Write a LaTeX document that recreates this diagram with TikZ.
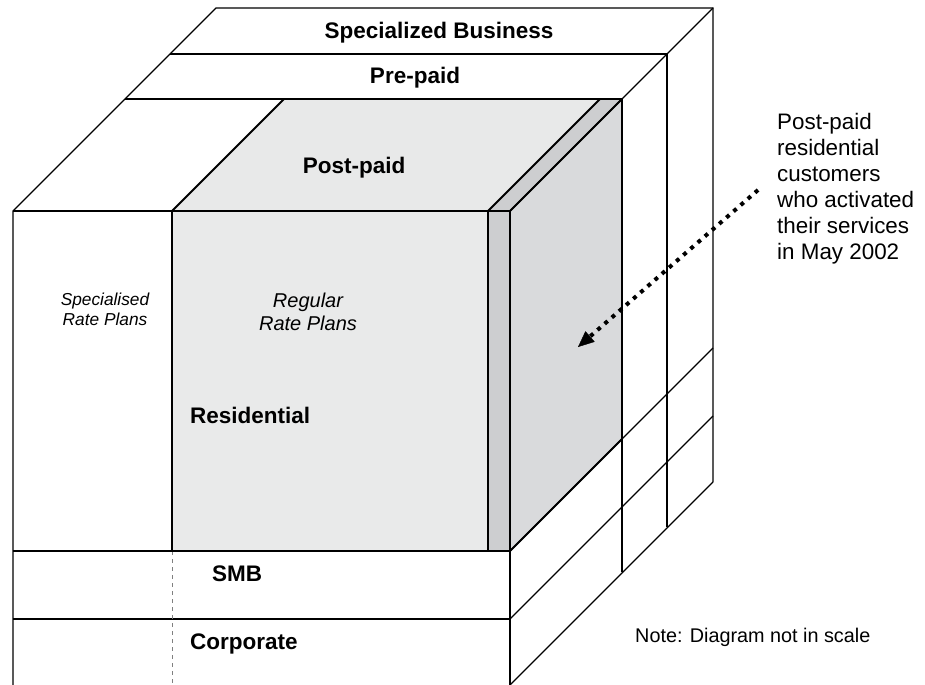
\documentclass[tikz,border=0pt]{standalone}
\usepackage{fontspec}
\setmainfont{Liberation Sans}
\usepackage{tikz}
\usetikzlibrary{arrows.meta, positioning}
\definecolor{topgray}{HTML}{E8E9E9}
\definecolor{frontgray}{HTML}{E9EAEA}
\definecolor{sidegray}{HTML}{D9DADC}
\definecolor{stripgray}{HTML}{CDCED0}

\begin{document}
\begin{tikzpicture}[x=1bp, y=-1bp,
            fineline/.style={line width=1.1bp, line join=miter},
            boldline/.style={line width=1.8bp, line join=miter},
            dashline/.style={line width=0.6bp, gray, dash pattern=on 4bp off 4bp},
            title/.style={font=\fontsize{22.5bp}{26bp}\selectfont\bfseries, inner sep=0pt, anchor=base},
            plan/.style={align=center, inner sep=0pt, anchor=north},
            pointer/.style={line width=4bp, dash pattern=on 4bp off 5.5bp,
                -{Triangle[length=16bp, width=14bp, line width=0.4bp]}}]

            \useasboundingbox (0,0) rectangle (925,685);

            % shaded post-paid residential block
            \fill[topgray] (172,211) -- (488,211) -- (600,99) -- (284,99) -- cycle;
            \fill[stripgray] (488,211) -- (510,211) -- (622,99) -- (600,99) -- cycle;
            \fill[frontgray] (172,211) rectangle (488,551);
            \fill[stripgray] (488,211) rectangle (510,551);
            \fill[sidegray] (510,211) -- (622,99) -- (622,439) -- (510,551) -- cycle;

            % cube grid
            \draw[fineline] (13,685) -- (13,211) -- (216,8) -- (713,8) -- (713,482);
            \draw[fineline] (13,211) -- (172,211);
            \draw[fineline] (170,54) -- (667,54) -- (667,527);
            \draw[fineline] (125,99) -- (622,99);
            \draw[fineline] (510,211) -- (713,8);
            \draw[fineline] (622,439) -- (622,572);
            \draw[fineline] (510,551) -- (713,348);
            \draw[fineline] (510,619) -- (713,416);
            \draw[fineline] (510,685) -- (713,482);
            \draw[fineline] (510,551) -- (510,685);
            \draw[fineline] (13,619) -- (510,619);
            \draw[boldline] (13,551) -- (510,551);
            \draw[dashline] (172,551) -- (172,685);

            % block outline
            \draw[boldline] (172,551) -- (172,211) -- (284,99) -- (622,99) -- (622,439) -- (510,551) -- cycle;
            \draw[boldline] (172,211) -- (510,211) -- (510,551);
            \draw[boldline] (510,211) -- (622,99);
            \draw[boldline] (488,551) -- (488,211) -- (600,99);

            % labels
            \node[title] (business) at (439,39) {Specialized Business};
            \node[title] (prepaid) at (415,84) {Pre-paid};
            \node[title] (postpaid) at (354,174) {Post-paid};
            \node[title, anchor=base west] (residential) at (190,423) {Residential};
            \node[title] (smb) at (237,581) {SMB};
            \node[title, anchor=base west] (corporate) at (190,649) {Corporate};
            \node[plan, font=\fontsize{17.3bp}{20bp}\selectfont\itshape] (specplans) at (105,293) {Specialised\\Rate Plans};
            \node[plan, font=\fontsize{20bp}{23bp}\selectfont\itshape] (regplans) at (308,293) {Regular\\Rate Plans};
            \node[anchor=base west, inner sep=0pt, font=\fontsize{19.8bp}{23bp}\selectfont] (note) at (635,642.5) {Note: Diagram not in scale};
            \node[anchor=north west, align=left, inner sep=0pt, font=\fontsize{22.4bp}{26bp}\selectfont] (callout) at (777,113)
                {Post-paid\\residential\\customers\\who activated\\their services\\in May 2002};

            % pointer into the block
            \coordinate (tail) at (758,190);
            \coordinate (tip) at (578,347);
            \draw[pointer] (tail) -- (tip);
        \end{tikzpicture}
\end{document}
